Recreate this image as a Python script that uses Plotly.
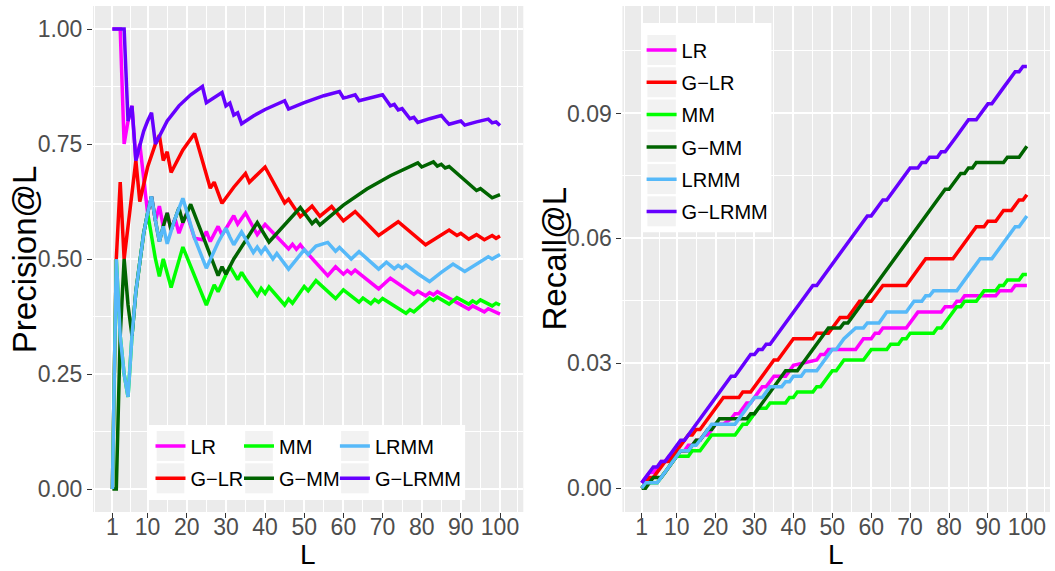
import plotly.graph_objects as go

# ---------------------------------------------------------------------------
# Curve vertices: ranking cut-off L, Precision@L and Recall@L per method
# ---------------------------------------------------------------------------
lr_L = [1, 3, 4, 5, 6, 7, 8, 9, 10, 11, 12, 13, 14, 15, 16, 17, 18, 19, 20, 21, 22, 24, 25, 26, 28, 29,
        31, 32, 33, 35, 38, 40, 46, 47, 48, 49, 50, 56, 58, 60, 61, 62, 63, 69, 72, 78, 79, 81, 82, 83,
        84, 92, 93, 94, 96, 97, 100]
lr_precision = [1.0, 1.0, .750, .800, .833, .714, .750, .667, .600, .636, .583, .615, .571, .600, .563,
                .588, .556, .579, .600, .571, .545, .542, .560, .538, .571, .552, .581, .594, .576, .600,
                .553, .575, .522, .532, .521, .531, .520, .464, .483, .467, .475, .468, .476, .435, .458,
                .423, .430, .420, .427, .422, .429, .391, .398, .394, .385, .392, .380]
lr_recall = [.0013, .0038, .0038, .0051, .0064, .0064, .0077, .0077, .0077, .0090, .0090, .0103, .0103,
             .0115, .0115, .0128, .0128, .0141, .0154, .0154, .0154, .0167, .0179, .0179, .0205, .0205,
             .0231, .0244, .0244, .0269, .0269, .0295, .0308, .0321, .0321, .0333, .0333, .0333, .0359,
             .0359, .0372, .0372, .0385, .0385, .0423, .0423, .0436, .0436, .0449, .0449, .0462, .0462,
             .0474, .0474, .0474, .0487, .0487]

glr_L = [1, 2, 3, 4, 7, 8, 10, 12, 13, 14, 15, 16, 19, 22, 26, 27, 29, 32, 35, 36, 40, 45, 46, 49, 52,
         54, 57, 60, 63, 69, 74, 81, 87, 89, 90, 92, 94, 96, 98, 99, 100]
glr_precision = [0.0, .500, .667, .500, .714, .625, .700, .750, .769, .714, .733, .688, .737, .773, .654,
                 .667, .621, .656, .686, .667, .700, .622, .630, .592, .615, .593, .614, .583, .603, .551,
                 .581, .531, .563, .551, .556, .543, .553, .542, .551, .545, .550]
glr_recall = [0.0, .0013, .0026, .0026, .0064, .0064, .0090, .0115, .0128, .0128, .0141, .0141, .0179,
              .0218, .0218, .0231, .0231, .0269, .0308, .0308, .0359, .0359, .0372, .0372, .0410, .0410,
              .0449, .0449, .0487, .0487, .0551, .0551, .0628, .0628, .0641, .0641, .0667, .0667, .0692,
              .0692, .0705]

mm_L = [1, 2, 3, 4, 5, 6, 7, 8, 9, 10, 11, 12, 13, 14, 16, 19, 25, 27, 28, 31, 33, 34, 35, 38, 39, 40,
        41, 45, 46, 47, 50, 51, 53, 58, 60, 64, 65, 67, 68, 69, 70, 76, 77, 78, 82, 83, 84, 87, 89, 92,
        93, 94, 95, 98, 99, 100]
mm_precision = [0.0, .500, .333, .250, .200, .333, .429, .500, .556, .600, .545, .500, .462, .500, .438,
                .526, .400, .444, .429, .484, .455, .471, .457, .421, .436, .425, .439, .400, .413, .404,
                .440, .431, .453, .414, .433, .406, .415, .403, .412, .406, .414, .382, .390, .385, .415,
                .410, .417, .402, .416, .402, .409, .404, .411, .398, .404, .400]
mm_recall = [0.0, .0013, .0013, .0013, .0013, .0026, .0038, .0051, .0064, .0077, .0077, .0077, .0077,
             .0090, .0090, .0128, .0128, .0154, .0154, .0192, .0192, .0205, .0205, .0205, .0218, .0218,
             .0231, .0231, .0244, .0244, .0282, .0282, .0308, .0308, .0333, .0333, .0346, .0346, .0359,
             .0359, .0372, .0372, .0385, .0385, .0436, .0436, .0449, .0449, .0474, .0474, .0487, .0487,
             .0500, .0500, .0513, .0513]

gmm_L = [1, 2, 3, 4, 5, 6, 7, 8, 9, 10, 11, 12, 13, 14, 15, 16, 17, 18, 19, 21, 28, 29, 30, 31, 32, 38,
         41, 49, 52, 53, 54, 60, 66, 72, 79, 80, 83, 84, 85, 86, 87, 94, 95, 98, 99, 100]
gmm_precision = [0.0, 0.0, .333, .500, .400, .333, .429, .500, .556, .600, .636, .583, .538, .571, .600,
                 .563, .588, .611, .579, .619, .464, .483, .467, .484, .500, .579, .537, .612, .577, .585,
                 .574, .617, .652, .681, .709, .700, .711, .702, .706, .698, .701, .649, .653, .633, .636,
                 .640]
gmm_recall = [0.0, 0.0, .0013, .0026, .0026, .0026, .0038, .0051, .0064, .0077, .0090, .0090, .0090,
              .0103, .0115, .0115, .0128, .0141, .0141, .0167, .0167, .0179, .0179, .0192, .0205, .0282,
              .0282, .0385, .0385, .0397, .0397, .0474, .0551, .0628, .0718, .0718, .0756, .0756, .0769,
              .0769, .0782, .0782, .0795, .0795, .0808, .0821]

lrmm_L = [1, 2, 3, 4, 5, 6, 7, 8, 9, 10, 11, 12, 13, 14, 15, 17, 19, 22, 25, 28, 30, 31, 32, 34, 37, 38,
          39, 40, 42, 43, 46, 50, 51, 53, 56, 58, 59, 62, 64, 69, 71, 73, 74, 75, 76, 79, 82, 85, 88, 91,
          94, 97, 98, 99, 100]
lrmm_precision = [0.0, .500, .333, .250, .200, .333, .429, .500, .556, .600, .636, .583, .538, .571, .533,
                  .588, .632, .545, .480, .536, .567, .548, .531, .559, .514, .526, .513, .525, .500, .512,
                  .478, .520, .510, .528, .536, .517, .525, .500, .516, .478, .493, .479, .486, .480, .487,
                  .468, .451, .471, .489, .473, .489, .505, .500, .505, .510]
lrmm_recall = [0.0, .0013, .0013, .0013, .0013, .0026, .0038, .0051, .0064, .0077, .0090, .0090, .0090,
               .0103, .0103, .0128, .0154, .0154, .0154, .0192, .0218, .0218, .0218, .0244, .0244, .0256,
               .0256, .0269, .0269, .0282, .0282, .0333, .0333, .0359, .0385, .0385, .0397, .0397, .0423,
               .0423, .0449, .0449, .0462, .0462, .0474, .0474, .0474, .0513, .0551, .0551, .0590, .0628,
               .0628, .0641, .0654]

glrmm_L = [1, 4, 5, 6, 7, 8, 9, 10, 11, 12, 15, 18, 21, 24, 25, 29, 30, 31, 32, 33, 34, 37, 40, 45, 46,
           50, 55, 59, 60, 61, 62, 63, 64, 67, 70, 71, 72, 73, 74, 75, 76, 77, 78, 79, 82, 85, 86, 87, 90,
           91, 94, 97, 98, 99, 100]
glrmm_precision = [1.0, 1.0, .800, .833, .714, .750, .778, .800, .818, .750, .800, .833, .857, .875, .840,
                   .862, .833, .839, .813, .818, .794, .811, .825, .844, .826, .840, .855, .864, .850, .852,
                   .855, .857, .844, .851, .857, .845, .833, .836, .824, .827, .816, .805, .808, .797, .805,
                   .812, .802, .793, .800, .791, .798, .804, .796, .798, .790]
glrmm_recall = [.0013, .0051, .0051, .0064, .0064, .0077, .0090, .0103, .0115, .0115, .0154, .0192, .0231,
                .0269, .0269, .0321, .0321, .0333, .0333, .0346, .0346, .0385, .0423, .0487, .0487, .0538,
                .0603, .0654, .0654, .0667, .0679, .0692, .0692, .0731, .0769, .0769, .0769, .0782, .0782,
                .0795, .0795, .0795, .0808, .0808, .0846, .0885, .0885, .0885, .0923, .0923, .0962, .1000,
                .1000, .1013, .1013]

method_names = ["LR", "G\u2212LR", "MM", "G\u2212MM", "LRMM", "G\u2212LRMM"]
method_colors = ["#FF00FF", "#FF0000", "#00FF00", "#006400", "#56B9F9", "#6600FF"]
x_tick_values = [1, 10, 20, 30, 40, 50, 60, 70, 80, 90, 100]
precision_ticks = [0.0, 0.25, 0.5, 0.75, 1.0]
precision_tick_text = ["0.00", "0.25", "0.50", "0.75", "1.00"]
recall_ticks = [0.0, 0.03, 0.06, 0.09]
recall_tick_text = ["0.00", "0.03", "0.06", "0.09"]

curves = [
    (lr_L, lr_precision, lr_recall),
    (glr_L, glr_precision, glr_recall),
    (mm_L, mm_precision, mm_recall),
    (gmm_L, gmm_precision, gmm_recall),
    (lrmm_L, lrmm_precision, lrmm_recall),
    (glrmm_L, glrmm_precision, glrmm_recall),
]
# left panel legend is laid out in three columns of two entries
left_legend_of = ["legend", "legend", "legend2", "legend2", "legend3", "legend3"]

# ---------------------------------------------------------------------------
# Page geometry
# ---------------------------------------------------------------------------
W, H = 1055, 571
ML, MR, MT, MB = 93, 5, 6, 59
PW, PH = W - ML - MR, H - MT - MB


def fx(px):
    return (px - ML) / PW


def fy(py):
    return (H - MB - py) / PH


FONT = "Liberation Sans, Arial, Helvetica, sans-serif"
PANEL_BG = "#EBEBEB"
TICK_GREY = "#4D4D4D"
LINE_W = 3.5

fig = go.Figure()

for i, (name, color) in enumerate(zip(method_names, method_colors)):
    L, prec, rec = curves[i]
    fig.add_trace(go.Scatter(
        x=L, y=prec, mode="lines", name=name,
        line=dict(color=color, width=LINE_W),
        xaxis="x", yaxis="y", legend=left_legend_of[i],
        legendgroup="p" + str(i), showlegend=True,
    ))
for i, (name, color) in enumerate(zip(method_names, method_colors)):
    L, prec, rec = curves[i]
    fig.add_trace(go.Scatter(
        x=L, y=rec, mode="lines", name=name,
        line=dict(color=color, width=LINE_W),
        xaxis="x2", yaxis="y2", legend="legend4",
        legendgroup="r" + str(i), showlegend=True,
    ))

minor_x = [-3.5, 5.5] + list(range(15, 100, 10)) + [104.5]


def x_axis(domain, anchor):
    return dict(
        domain=domain, anchor=anchor, range=[-3.95, 105.95],
        tickmode="array", tickvals=x_tick_values,
        ticktext=[str(v) for v in x_tick_values],
        showgrid=True, gridcolor="white", gridwidth=2,
        minor=dict(tickmode="array", tickvals=minor_x, showgrid=True,
                   gridcolor="white", gridwidth=1, ticks=""),
        ticks="outside", ticklen=5, tickwidth=1, tickcolor="#333333",
        ticklabelstandoff=-11,
        tickfont=dict(family=FONT, size=23, color=TICK_GREY),
        zeroline=False, showline=False, automargin=False, fixedrange=True,
    )


def y_axis(domain, anchor, rng, vals, text, minor_vals):
    return dict(
        domain=domain, anchor=anchor, range=rng,
        tickmode="array", tickvals=vals, ticktext=text,
        showgrid=True, gridcolor="white", gridwidth=2,
        minor=dict(tickmode="array", tickvals=minor_vals, showgrid=True,
                   gridcolor="white", gridwidth=1, ticks=""),
        ticks="outside", ticklen=5, tickwidth=1, tickcolor="#333333",
        tickfont=dict(family=FONT, size=23, color=TICK_GREY),
        zeroline=False, showline=False, automargin=False, fixedrange=True,
    )


left_end = fx(523.3)
right_start = fx(622.4)


def legend_at(px_left, py_top):
    return dict(
        x=fx(px_left), y=fy(py_top), xanchor="left", yanchor="top",
        bgcolor="rgba(0,0,0,0)", borderwidth=0, orientation="v",
        font=dict(family=FONT, size=20, color="black"),
        traceorder="grouped", tracegroupgap=3.3, itemwidth=30,
    )


# legend backgrounds and grey key boxes
shapes = []


def rect(x0, y0, x1, y1, color):
    shapes.append(dict(type="rect", xref="paper", yref="paper", layer="above",
                       x0=fx(x0), x1=fx(x1), y0=fy(y1), y1=fy(y0),
                       fillcolor=color, line=dict(width=0)))


rect(147.7, 425, 465.1, 500, "white")
for cx in (170.5, 259.0, 354.9):
    for cy in (446.0, 478.3):
        rect(cx - 13.8, cy - 15, cx + 13.8, cy + 15, "#F2F2F2")

rect(642.0, 23, 771.4, 232.3, "white")
for k in range(6):
    cy = 50 + 32.27 * k
    rect(661.6 - 14.2, cy - 15, 661.6 + 14.2, cy + 15, "#F2F2F2")

# axis titles
TITLE_FONT = dict(family=FONT, size=33, color="black")
X_TITLE_FONT = dict(family=FONT, size=28, color="black")
annotations = [
    dict(text="L", x=fx(308.3), y=fy(571), xref="paper", yref="paper", borderpad=0,
         xanchor="center", yanchor="bottom", showarrow=False, font=X_TITLE_FONT),
    dict(text="L", x=fx(836.2), y=fy(571), xref="paper", yref="paper", borderpad=0,
         xanchor="center", yanchor="bottom", showarrow=False, font=X_TITLE_FONT),
    dict(text="Precision@L", x=fx(24.2), y=fy(259), xref="paper", yref="paper",
         xanchor="center", yanchor="middle", textangle=-90, showarrow=False, font=TITLE_FONT),
    dict(text="Recall@L", x=fx(553.5), y=fy(259), xref="paper", yref="paper",
         xanchor="center", yanchor="middle", textangle=-90, showarrow=False, font=TITLE_FONT),
]

fig.update_layout(
    width=W, height=H,
    margin=dict(l=ML, r=MR, t=MT, b=MB, pad=0),
    paper_bgcolor="white", plot_bgcolor=PANEL_BG,
    font=dict(family=FONT, color="black"),
    xaxis=x_axis([0, left_end], "y"),
    yaxis=y_axis([0, 1], "x", [-0.05, 1.05], precision_ticks, precision_tick_text,
                 [0.125, 0.375, 0.625, 0.875]),
    xaxis2=x_axis([right_start, 1], "y2"),
    yaxis2=y_axis([0, 1], "x2", [-0.0057, 0.1158], recall_ticks, recall_tick_text,
                  [0.015, 0.045, 0.075, 0.105]),
    legend=legend_at(150.5, 426.5),
    legend2=legend_at(239.0, 426.5),
    legend3=legend_at(334.9, 426.5),
    legend4=legend_at(641.6, 30.5),
    shapes=shapes,
    annotations=annotations,
    hovermode=False,
)

fig.write_html("out.html", include_plotlyjs=True, config={"displayModeBar": False})
